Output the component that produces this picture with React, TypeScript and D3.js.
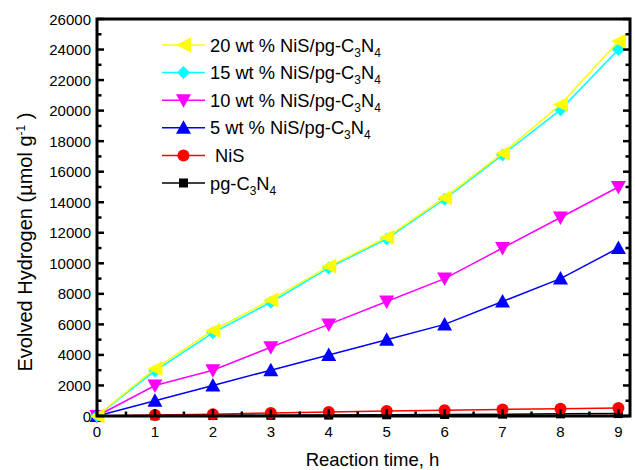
import React from "react";
import * as d3 from "d3";

// reaction time (h)
const hours = [0, 1, 2, 3, 4, 5, 6, 7, 8, 9];

// evolved hydrogen, µmol g-1
const wt20 = [0, 3100, 5600, 7600, 9800, 11700, 14300, 17200, 20400, 24550];
const wt15 = [0, 2950, 5450, 7450, 9700, 11600, 14200, 17100, 20050, 24000];
const wt10 = [0, 2000, 3000, 4500, 6000, 7500, 9000, 11000, 13000, 15000];
const wt5 = [0, 1000, 2000, 3000, 4000, 5000, 6000, 7500, 9000, 11000];
const nis = [0, 60, 120, 200, 270, 330, 380, 430, 480, 520];
const pgcn = [0, 15, 30, 45, 60, 80, 100, 120, 140, 160];

const seriesNames = ["20 wt % NiS/pg-C", "15 wt % NiS/pg-C", "10 wt % NiS/pg-C", "5 wt % NiS/pg-C", "NiS", "pg-C"];
const seriesData = [wt20, wt15, wt10, wt5, nis, pgcn];
const seriesColors = ["#ffff00", "#00ffff", "#ff00ff", "#0000ff", "#ff0000", "#000000"];
const seriesMarkers = ["left", "diamond", "down", "up", "circle", "square"];

const xTicks = [0, 1, 2, 3, 4, 5, 6, 7, 8, 9];
const yTicks = [0, 2000, 4000, 6000, 8000, 10000, 12000, 14000, 16000, 18000, 20000, 22000, 24000, 26000];

const font = "'Liberation Sans', Arial, sans-serif";

function Marker({ type, x, y, color }: { type: string; x: number; y: number; color: string }) {
  const s = 7.5;
  if (type === "circle") return <circle cx={x} cy={y} r={6} fill={color} />;
  if (type === "square") return <rect x={x - 4.5} y={y - 4.5} width={9} height={9} fill={color} />;
  let pts: number[][] = [];
  if (type === "left") pts = [[x - s, y], [x + s, y - s], [x + s, y + s]];
  if (type === "up") pts = [[x, y - s], [x - s, y + s * 0.8], [x + s, y + s * 0.8]];
  if (type === "down") pts = [[x, y + s], [x - s, y - s * 0.8], [x + s, y - s * 0.8]];
  if (type === "diamond") pts = [[x, y - 6.5], [x + 6.5, y], [x, y + 6.5], [x - 6.5, y]];
  return <polygon points={pts.map((p) => p.join(",")).join(" ")} fill={color} />;
}

const App = () => {
  const width = 635;
  const height = 470;
  const left = 97;
  const right = 630;
  const top = 19;
  const bottom = 416;

  const xScale = d3.scaleLinear().domain([0, 9.2]).range([left, right]);
  const yScale = d3.scaleLinear().domain([0, 26000]).range([bottom, top]);
  const line = d3
    .line<number>()
    .x((d, i) => xScale(hours[i]))
    .y((d) => yScale(d));

  const xMinor = d3.range(0, 9.5, 0.5);
  const yMinor = d3.range(0, 26001, 1000);

  // draw bottom series first so yellow ends on top
  const order = [5, 4, 3, 2, 1, 0];

  return (
    <svg
      width={width}
      height={height}
      style={{ position: "absolute", left: 0, top: 0, background: "#fff" }}
      fontFamily={font}
    >
      {order.map((k) => (
        <g key={k}>
          <path d={line(seriesData[k]) || ""} fill="none" stroke={seriesColors[k]} strokeWidth={1.5} />
          {seriesData[k].map((v, i) => (
            <Marker key={i} type={seriesMarkers[k]} x={xScale(hours[i])} y={yScale(v)} color={seriesColors[k]} />
          ))}
        </g>
      ))}

      {/* frame */}
      <rect x={left} y={top} width={right - left} height={bottom - top} fill="none" stroke="#000" strokeWidth={3} />

      {/* bottom ticks */}
      {xMinor.map((t) => {
        const major = Number.isInteger(t);
        return (
          <line
            key={"xt" + t}
            x1={xScale(t)}
            x2={xScale(t)}
            y1={bottom}
            y2={bottom - (major ? 7 : 4.5)}
            stroke="#000"
            strokeWidth={2.5}
          />
        );
      })}
      {/* left and right ticks */}
      {yMinor.map((t) => {
        const major = t % 2000 === 0;
        const len = major ? 7 : 4.5;
        return (
          <g key={"yt" + t}>
            <line x1={left} x2={left + len} y1={yScale(t)} y2={yScale(t)} stroke="#000" strokeWidth={2.5} />
            <line x1={right} x2={right - len} y1={yScale(t)} y2={yScale(t)} stroke="#000" strokeWidth={2.5} />
          </g>
        );
      })}

      {xTicks.map((t) => (
        <text key={"xl" + t} x={xScale(t)} y={437} textAnchor="middle" fontSize={15}>
          {t}
        </text>
      ))}
      {yTicks.map((t) => (
        <text key={"yl" + t} x={91} y={yScale(t) + 5.5} textAnchor="end" fontSize={15}>
          {t}
        </text>
      ))}

      <text x={(left + right) / 2 + 9} y={466} textAnchor="middle" fontSize={18.5}>
        Reaction time, h
      </text>
      <text transform={`translate(32, 242) rotate(-90)`} textAnchor="middle" fontSize={20}>
        Evolved Hydrogen (µmol g<tspan dy={-7} fontSize={12}>-1</tspan>
        <tspan dy={7}> )</tspan>
      </text>

      {/* legend */}
      {seriesNames.map((name, k) => {
        const y = 45 + k * 27.6;
        const hasSub = name.endsWith("C");
        return (
          <g key={"lg" + k}>
            <line x1={162} x2={205} y1={y} y2={y} stroke={seriesColors[k]} strokeWidth={1.5} />
            <Marker type={seriesMarkers[k]} x={183.5} y={y} color={seriesColors[k]} />
            <text x={k === 4 ? 215 : 210} y={y + 6.5} fontSize={18.3}>
              {name}
              {hasSub && (
                <>
                  <tspan dy={5} fontSize={12}>3</tspan>
                  <tspan dy={-5}>N</tspan>
                  <tspan dy={5} fontSize={12}>4</tspan>
                </>
              )}
            </text>
          </g>
        );
      })}
    </svg>
  );
};

export default App;
